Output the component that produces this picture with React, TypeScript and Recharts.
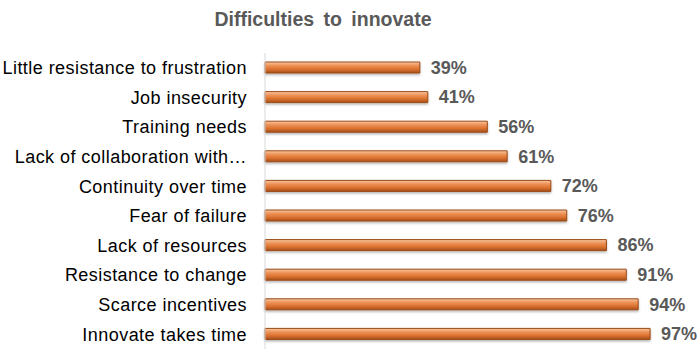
import { Bar, BarChart, LabelList, XAxis, YAxis } from "recharts"

const categories = [
  "Little resistance to frustration",
  "Job insecurity",
  "Training needs",
  "Lack of collaboration with…",
  "Continuity over time",
  "Fear of failure",
  "Lack of resources",
  "Resistance to change",
  "Scarce incentives",
  "Innovate takes time",
]

const values = [39, 41, 56, 61, 72, 76, 86, 91, 94, 97]

const data = categories.map((name, i) => ({ name, value: values[i] }))

const font = "'Liberation Sans', Arial, sans-serif"

export default function App() {
  return (
    <div style={{ position: "absolute", left: 0, top: 0, width: 700, height: 353, background: "#fff" }}>
      <div
        style={{
          position: "absolute",
          left: 0,
          top: 8,
          width: 646,
          textAlign: "center",
          fontFamily: font,
          fontWeight: "bold",
          fontSize: 19.5,
          lineHeight: "22px",
          color: "#595959",
          wordSpacing: 4,
        }}
      >
        Difficulties to innovate
      </div>
      <BarChart
        width={700}
        height={353}
        data={data}
        layout="vertical"
        margin={{ top: 53, right: 38, bottom: 4, left: 0 }}
      >
        <defs>
          <linearGradient id="barFill" x1="0" y1="0" x2="0" y2="1">
            <stop offset="0%" stopColor="#f8c9a6" />
            <stop offset="30%" stopColor="#ef955a" />
            <stop offset="65%" stopColor="#dc7230" />
            <stop offset="100%" stopColor="#a6501a" />
          </linearGradient>
          <filter id="barShadow" x="-5%" y="-30%" width="110%" height="180%">
            <feDropShadow dx="0" dy="1.5" stdDeviation="0.8" floodColor="#000" floodOpacity="0.3" />
          </filter>
        </defs>
        <XAxis type="number" domain={[0, 100]} hide />
        <YAxis
          type="category"
          dataKey="name"
          width={265}
          tickLine={false}
          tickSize={0}
          tickMargin={18}
          axisLine={{ stroke: "#d9d9d9" }}
          tick={{ fill: "#000", fontSize: 18, letterSpacing: 0.45, fontFamily: font }}
          interval={0}
        />
        <Bar
          dataKey="value"
          fill="url(#barFill)"
          stroke="#9a4a16"
          strokeWidth={1}
          barSize={11}
          filter="url(#barShadow)"
          isAnimationActive={false}
        >
          <LabelList
            dataKey="value"
            position="right"
            offset={11}
            formatter={(v: number) => `${v}%`}
            style={{ fill: "#595959", fontSize: 18, fontWeight: "bold", fontFamily: font, filter: "none" }}
          />
        </Bar>
      </BarChart>
    </div>
  )
}
